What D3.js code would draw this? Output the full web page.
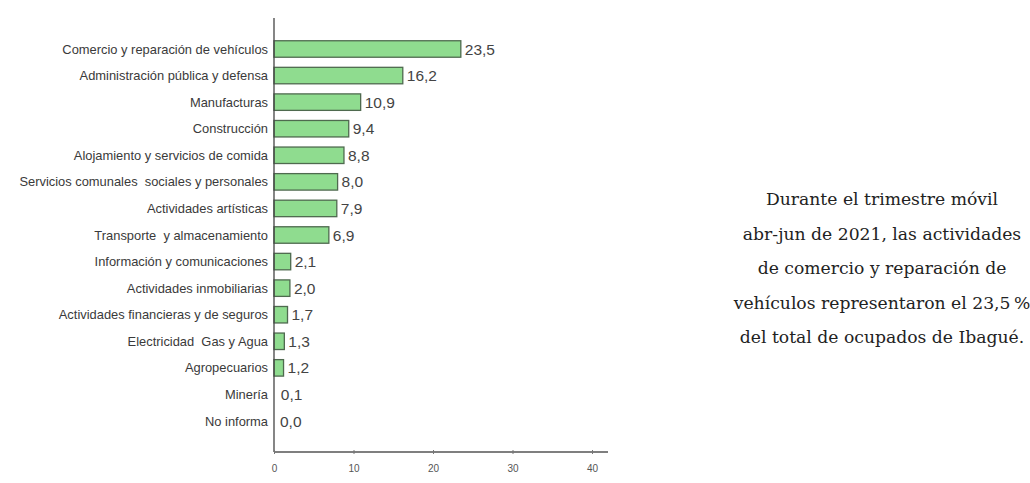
<!DOCTYPE html>
<html>
<head>
<meta charset="utf-8">
<script src="https://cdn.jsdelivr.net/npm/d3@7"></script>
<style>
  html, body { margin: 0; padding: 0; background: #ffffff; }
  svg { display: block; }
</style>
</head>
<body>
<svg id="chart" width="1030" height="483"></svg>
<script>
const categories = [
  "Comercio y reparación de vehículos",
  "Administración pública y defensa",
  "Manufacturas",
  "Construcción",
  "Alojamiento y servicios de comida",
  "Servicios comunales  sociales y personales",
  "Actividades artísticas",
  "Transporte  y almacenamiento",
  "Información y comunicaciones",
  "Actividades inmobiliarias",
  "Actividades financieras y de seguros",
  "Electricidad  Gas y Agua",
  "Agropecuarios",
  "Minería",
  "No informa"
];
const values = [23.5, 16.2, 10.9, 9.4, 8.8, 8.0, 7.9, 6.9, 2.1, 2.0, 1.7, 1.3, 1.2, 0.1, 0.0];
const xTicks = [0, 10, 20, 30, 40];
const noteLines = [
  "Durante el trimestre móvil",
  "abr-jun de 2021, las actividades",
  "de comercio y reparación de",
  "vehículos representaron el 23,5\u2009%",
  "del total de ocupados de Ibagué."
];

const svg = d3.select("#chart");
const x = d3.scaleLinear().domain([0, 40]).range([274, 592]);
const y = d3.scaleBand().domain(categories).range([35.7, 434.3])
  .paddingInner(0.38).paddingOuter(0.19);
const fmt = v => d3.format(".1f")(v).replace(".", ",");

// bars
svg.append("g").selectAll("rect").data(values).join("rect")
  .attr("x", x(0))
  .attr("y", (d, i) => y(categories[i]))
  .attr("width", d => Math.max(0, x(d) - x(0)))
  .attr("height", y.bandwidth())
  .attr("fill", "#8fdc8f")
  .attr("stroke", "#4f6a4f")
  .attr("stroke-width", 1.3)
  .attr("display", d => d > 0.15 ? null : "none");

// category labels
svg.append("g").selectAll("text").data(categories).join("text")
  .attr("x", x(0) - 6)
  .attr("y", d => y(d) + y.bandwidth() / 2)
  .attr("dy", "0.35em")
  .attr("text-anchor", "end")
  .attr("font-family", "Liberation Sans, Arial, sans-serif")
  .attr("font-size", 12.9)
  .attr("fill", "#3a3a3a")
  .style("white-space", "pre")
  .text(d => d);

// value labels
svg.append("g").selectAll("text").data(values).join("text")
  .attr("x", d => x(d) + (d > 0.15 ? 4 : 6))
  .attr("y", (d, i) => y(categories[i]) + y.bandwidth() / 2)
  .attr("dy", "0.36em")
  .attr("font-family", "Liberation Sans, Arial, sans-serif")
  .attr("font-size", 15.5)
  .attr("fill", "#444")
  .text(d => fmt(d));

// vertical axis line
svg.append("line")
  .attr("x1", x(0)).attr("x2", x(0))
  .attr("y1", 18).attr("y2", 452)
  .attr("stroke", "#444").attr("stroke-width", 1.3);

// x axis
const xAxis = d3.axisBottom(x).tickValues(xTicks).tickSize(3).tickPadding(10)
  .tickFormat(d3.format("d"));
const gx = svg.append("g").attr("transform", "translate(0,452)").call(xAxis);
gx.select(".domain").attr("d", `M${x(0)},0H608`).attr("stroke", "#555").attr("stroke-width", 1.5);
gx.selectAll(".tick line").attr("stroke", "#777").attr("y1", -2).attr("y2", 2);
gx.selectAll(".tick text")
  .attr("font-family", "Liberation Sans, Arial, sans-serif")
  .attr("font-size", 10).attr("fill", "#555");

// note text
svg.append("g").selectAll("text").data(noteLines).join("text")
  .attr("x", 882)
  .attr("y", (d, i) => 205 + i * 34.5)
  .attr("text-anchor", "middle")
  .attr("font-family", "DejaVu Serif, Liberation Serif, serif")
  .attr("font-size", 17.2)
  .attr("fill", "#222")
  .text(d => d);
</script>
</body>
</html>
